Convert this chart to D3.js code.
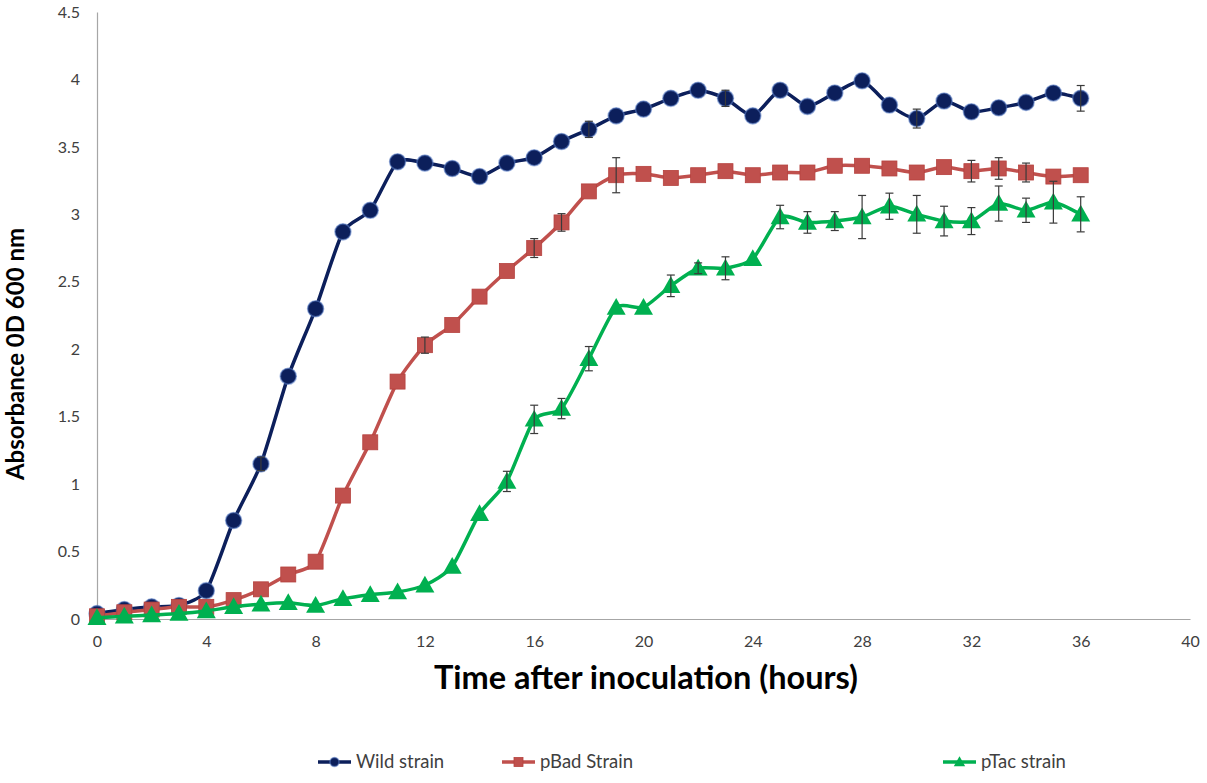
<!DOCTYPE html>
<html>
<head>
<meta charset="utf-8">
<script src="https://cdn.jsdelivr.net/npm/d3@7"></script>
<style>
  body { margin: 0; background: #fff; }
  svg { display: block; }
  text { font-family: "Lato", "Open Sans", sans-serif; }
</style>
</head>
<body>
<svg id="chart" width="1207" height="783"></svg>
<script>
// hours after inoculation
const hours = d3.range(0, 37);

const wildStrain = [0.04, 0.07, 0.09, 0.10, 0.21, 0.73, 1.15, 1.80, 2.30, 2.87,
  3.03, 3.39, 3.38, 3.34, 3.28, 3.38, 3.42, 3.54, 3.63, 3.73,
  3.78, 3.86, 3.92, 3.86, 3.73, 3.92, 3.80, 3.90, 3.99, 3.81,
  3.71, 3.84, 3.76, 3.79, 3.83, 3.90, 3.86];
const wildErr = [0, 0, 0, 0, 0, 0, 0.05, 0, 0, 0,
  0, 0, 0, 0, 0, 0, 0, 0, 0.06, 0,
  0, 0, 0, 0.06, 0, 0, 0, 0, 0, 0,
  0.07, 0, 0, 0, 0, 0, 0.095];

const pBadStrain = [0.02, 0.05, 0.07, 0.09, 0.09, 0.14, 0.22, 0.33, 0.425, 0.915,
  1.31, 1.76, 2.03, 2.18, 2.39, 2.58, 2.75, 2.94, 3.17, 3.29,
  3.30, 3.27, 3.29, 3.32, 3.29, 3.31, 3.31, 3.36, 3.36, 3.34,
  3.31, 3.35, 3.32, 3.34, 3.31, 3.28, 3.29];
const pBadErr = [0, 0, 0, 0, 0, 0, 0, 0, 0, 0,
  0, 0, 0.06, 0, 0, 0, 0.07, 0.065, 0, 0.13,
  0, 0, 0, 0, 0, 0, 0, 0, 0, 0,
  0, 0, 0.08, 0.08, 0.07, 0, 0];

const pTacStrain = [0.01, 0.02, 0.03, 0.04, 0.06, 0.09, 0.11, 0.12, 0.10, 0.15,
  0.18, 0.20, 0.25, 0.39, 0.78, 1.02, 1.48, 1.56, 1.93, 2.31,
  2.31, 2.47, 2.60, 2.60, 2.67, 2.98, 2.94, 2.95, 2.98, 3.06,
  3.00, 2.95, 2.95, 3.08, 3.03, 3.09, 3.00];
const pTacErr = [0, 0, 0, 0, 0, 0, 0, 0, 0, 0,
  0, 0, 0, 0, 0, 0.075, 0.105, 0.075, 0.09, 0,
  0, 0.08, 0.04, 0.085, 0, 0.087, 0.08, 0.07, 0.16, 0.097,
  0.14, 0.11, 0.10, 0.13, 0.09, 0.155, 0.13];

const xTicks = [0, 4, 8, 12, 16, 20, 24, 28, 32, 36, 40];
const yTicks = [0, 0.5, 1, 1.5, 2, 2.5, 3, 3.5, 4, 4.5];

const series = [
  { name: "Wild strain", values: wildStrain, err: wildErr, color: "#0c1f5b", shape: "circle" },
  { name: "pBad Strain", values: pBadStrain, err: pBadErr, color: "#c0504d", shape: "square" },
  { name: "pTac strain", values: pTacStrain, err: pTacErr, color: "#00b050", shape: "triangle" }
];

const svg = d3.select("#chart");
const margin = { left: 97, right: 17, top: 12, bottom: 164 };
const W = 1207, H = 783;

const x = d3.scaleLinear().domain([0, 40]).range([margin.left, W - margin.right]);
const y = d3.scaleLinear().domain([0, 4.5]).range([H - margin.bottom, margin.top]);

// axes
const xAxis = svg.append("g")
  .attr("transform", "translate(0," + y(0) + ")")
  .call(d3.axisBottom(x).tickValues(xTicks).tickSize(0).tickPadding(17).tickFormat(d3.format("d")));
const yAxis = svg.append("g")
  .attr("transform", "translate(" + x(0) + ",0)")
  .call(d3.axisLeft(y).tickValues(yTicks).tickSize(0).tickPadding(17).tickFormat(d => d));
[xAxis, yAxis].forEach(g => {
  g.select(".domain").attr("stroke", "#a6a6a6").attr("stroke-width", 1.2);
  g.selectAll("text").attr("font-size", 16).attr("fill", "#404040")
    .attr("font-family", "'Open Sans', sans-serif");
});

// axis titles
svg.append("text")
  .attr("x", 646).attr("y", 689)
  .attr("text-anchor", "middle")
  .attr("font-size", 32.5).attr("font-weight", "bold").attr("fill", "#000")
  .text("Time after inoculation (hours)");
svg.append("text")
  .attr("transform", "translate(24,354) rotate(-90)")
  .attr("text-anchor", "middle")
  .attr("font-size", 24).attr("font-weight", "bold").attr("fill", "#000")
  .text("Absorbance 0D 600 nm");

const line = d3.line()
  .x((d, i) => x(hours[i]))
  .y(d => y(d))
  .curve(d3.curveCardinal.tension(0.35));

function drawMarker(g, shape, color, size) {
  if (shape === "circle") {
    g.append("circle").attr("r", size * 0.5)
      .attr("fill", color).attr("stroke", "#5b80c8").attr("stroke-opacity", 0.55).attr("stroke-width", 1.6);
  } else if (shape === "square") {
    g.append("rect").attr("x", -size * 0.5).attr("y", -size * 0.5)
      .attr("width", size).attr("height", size)
      .attr("fill", color).attr("stroke", "#b5413e").attr("stroke-width", 0.8);
  } else {
    const s = size * 1.15;
    g.append("path")
      .attr("d", "M0," + (-s * 0.55) + "L" + (s * 0.55) + "," + (s * 0.42) + "L" + (-s * 0.55) + "," + (s * 0.42) + "Z")
      .attr("fill", color);
  }
}

series.forEach(s => {
  const g = svg.append("g");
  g.append("path")
    .attr("d", line(s.values))
    .attr("fill", "none")
    .attr("stroke", s.color)
    .attr("stroke-width", 3.5);

  s.values.forEach((v, i) => {
    const m = g.append("g").attr("transform", "translate(" + x(hours[i]) + "," + y(v) + ")");
    drawMarker(m, s.shape, s.color, s.shape === "circle" ? 16 : 15);
  });

  // error bars
  s.values.forEach((v, i) => {
    const e = s.err[i];
    if (!e) return;
    const cx = x(hours[i]);
    const eb = g.append("g").attr("stroke", "#3a3a3a").attr("stroke-width", 1.2);
    eb.append("line").attr("x1", cx).attr("x2", cx).attr("y1", y(v + e)).attr("y2", y(v - e));
    eb.append("line").attr("x1", cx - 4).attr("x2", cx + 4).attr("y1", y(v + e)).attr("y2", y(v + e));
    eb.append("line").attr("x1", cx - 4).attr("x2", cx + 4).attr("y1", y(v - e)).attr("y2", y(v - e));
  });
});

// legend
const legendX = [318, 502, 943];
series.forEach((s, i) => {
  const lg = svg.append("g").attr("transform", "translate(" + legendX[i] + ",762)");
  lg.append("line").attr("x1", 0).attr("x2", 33).attr("y1", 0).attr("y2", 0)
    .attr("stroke", s.color).attr("stroke-width", 3.5);
  const m = lg.append("g").attr("transform", "translate(16.5,0)");
  drawMarker(m, s.shape, s.color, 9);
  lg.append("text").attr("x", 38).attr("y", 0).attr("dy", "0.35em")
    .attr("font-size", 18.5).attr("fill", "#404040")
    .attr("font-family", "'Open Sans', sans-serif")
    .text(s.name);
});
</script>
</body>
</html>
